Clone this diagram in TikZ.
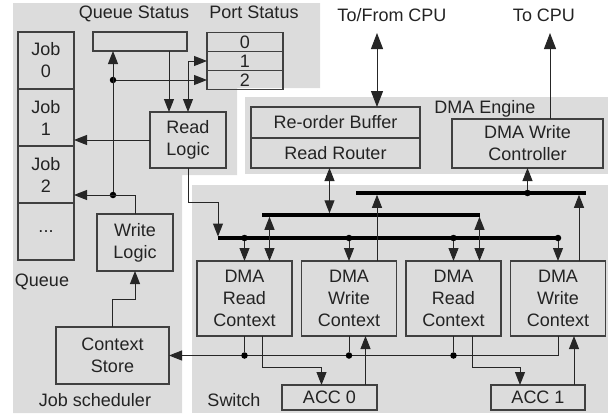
\documentclass[tikz,border=0pt]{standalone}
\usepackage{fontspec}
\setmainfont{Liberation Sans}
\usepackage{xcolor}
\usetikzlibrary{arrows.meta, positioning}
\definecolor{regiongray}{RGB}{220,220,220}
\definecolor{linegray}{RGB}{64,64,64}
\definecolor{textgray}{RGB}{35,35,35}

\begin{document}
\begin{tikzpicture}[x=1pt, y=-1pt, font=\fontsize{18}{22}\selectfont, text=textgray,
  blk/.style={draw=linegray, line width=1.2pt, align=center, inner sep=0pt, outer sep=0pt},
  lbl/.style={anchor=base, inner sep=0pt},
  wire/.style={draw=black!85, line width=1pt},
  arr/.style={wire, -{Triangle[length=13pt,width=10pt]}},
  arrb/.style={wire, {Triangle[length=13pt,width=10pt]}-{Triangle[length=13pt,width=10pt]}},
  bigtip/.style={{Triangle[length=16pt,width=12pt]}-{Triangle[length=16pt,width=12pt]}},
  bus/.style={line width=3.5pt},
  dot/.style={circle, fill=black, inner sep=0pt, minimum size=6.5pt}]
\useasboundingbox (0,0) rectangle (608,415);
\fill[regiongray] (13,3) -- (320,3) -- (320,88) -- (237,88) -- (237,175) -- (182,175) -- (182,413) -- (13,413) -- cycle;
\fill[regiongray] (245,97) rectangle (608,174);
\fill[regiongray] (192,185) rectangle (608,413);

\node[lbl] (lqs) at (134,19) {Queue Status};
\node[lbl] (lps) at (254,19) {Port Status};
\node[lbl] (lcpua) at (392,21) {To/From CPU};
\node[lbl] (lcpub) at (544,21) {To CPU};
\node[lbl] (ldma) at (485,113) {DMA Engine};
\node[lbl] (lq) at (42,286) {Queue};
\node[lbl] (ljs) at (95,406) {Job scheduler};
\node[lbl] (lsw) at (234,406) {Switch};

\node[blk, minimum width=56pt, minimum height=57pt] (job0) at (46,60.5) {Job\\0};
\node[blk, minimum width=56pt, minimum height=57pt, below=0pt of job0] (job1) {Job\\1};
\node[blk, minimum width=56pt, minimum height=57pt, below=0pt of job1] (job2) {Job\\2};
\node[blk, minimum width=56pt, minimum height=57pt, below=0pt of job2] (jobd) {...};

\node[blk, minimum width=94pt, minimum height=19pt] (qs) at (140,41.5) {};
\node[blk, minimum width=76pt, minimum height=19pt] (p0) at (245,42) {0};
\node[blk, minimum width=76pt, minimum height=19pt, below=0pt of p0] (p1) {1};
\node[blk, minimum width=76pt, minimum height=19pt, below=0pt of p1] (p2) {2};

\node[blk, minimum width=76pt, minimum height=56pt] (rl) at (188,140) {Read\\Logic};
\node[blk, minimum width=76pt, minimum height=57pt] (wl) at (135,242.5) {Write\\Logic};
\node[blk, minimum width=113pt, minimum height=57pt] (cs) at (112.5,355.5) {Context\\Store};

\node[blk, minimum width=169pt, minimum height=31pt] (rob) at (335.5,122.5) {Re-order Buffer};
\node[blk, minimum width=169pt, minimum height=30pt, below=0pt of rob] (rr) {Read Router};
\node[blk, minimum width=151pt, minimum height=49pt] (dwc) at (527.5,143.5) {DMA Write\\Controller};

\node[blk, minimum width=95pt, minimum height=75pt] (c1) at (244.5,298.5) {DMA\\Read\\Context};
\node[blk, minimum width=95pt, minimum height=75pt, right=9.5pt of c1] (c2) {DMA\\Write\\Context};
\node[blk, minimum width=95pt, minimum height=75pt, right=9.5pt of c2] (c3) {DMA\\Read\\Context};
\node[blk, minimum width=95pt, minimum height=75pt, right=9.5pt of c3] (c4) {DMA\\Write\\Context};

\node[blk, minimum width=95pt, minimum height=25pt] (acc0) at (329.5,397.5) {ACC 0};
\node[blk, minimum width=94pt, minimum height=25pt] (acc1) at (538,397.5) {ACC 1};

\coordinate (b1w) at (218,238);
\coordinate (b1e) at (558,238);
\coordinate (b2w) at (262,215);
\coordinate (b2e) at (480,215);
\coordinate (b3w) at (356,193);
\coordinate (b3e) at (586,193);
\coordinate (cpua) at (377,33);
\coordinate (cpub) at (550,33);
\draw[bus] (b1w) -- (b1e);
\draw[bus] (b2w) -- (b2e);
\draw[bus] (b3w) -- (b3e);

\draw[arr] ([xshift=-19pt]rl.north |- qs.south) -- ([xshift=-19pt]rl.north);
\draw[arrb] (p1.west) -| (rl.north);
\node[dot] (d1) at (113,195) {};
\node[dot] (d2) at (d1 |- p2.west) {};
\coordinate (jw) at (wl.north |- d1);
\draw[arr] (wl.north) -- (jw) -- (jw -| job2.east);
\draw[arr] (d1) -- (d1 |- qs.south);
\draw[arr] (d2) -- (p2.west);
\draw[arr] (rl.west) -- (rl.west -| job1.east);
\draw[arr] (cs.north) -- ++(0,-28) -| (wl.south);
\draw[arr, shorten >=1.5pt] (rl.south) -- ++(0,34) -| (b1w);

\node[dot] (tc1) at (c1.north |- b1w) {};
\node[dot] (tc2) at (c2.north |- b1w) {};
\node[dot] (tc3) at (c3.north |- b1w) {};
\node[dot] (tc4) at (c4.north |- b1w) {};
\draw[arr] (tc1) -- (c1.north);
\draw[arr] (tc2) -- (c2.north);
\draw[arr] (tc3) -- (c3.north);
\draw[arr] (tc4) -- (c4.north);

\draw[arrb, shorten <=1.75pt] ([xshift=25pt]c1.north |- b2w) -- ([xshift=25pt]c1.north);
\draw[arrb, shorten <=1.75pt] ([xshift=26pt]c3.north |- b2w) -- ([xshift=26pt]c3.north);
\draw[arrb, shorten <=1.75pt] ([xshift=-6pt]rr.south |- b2w) -- ([xshift=-6pt]rr.south);
\draw[arr, shorten >=1.75pt] ([xshift=28pt]c2.north) -- ([xshift=28pt]c2.north |- b3w);
\draw[arr, shorten >=1.75pt] ([xshift=21pt]c4.north) -- ([xshift=21pt]c4.north |- b3w);
\node[dot] (t3) at (dwc.south |- b3w) {};
\draw[arr] (t3) -- (dwc.south);

\draw[arrb, bigtip] (cpua |- rob.north) -- (cpua);
\draw[wire, -{Triangle[length=16pt,width=12pt]}] (cpub |- dwc.north) -- (cpub);

\draw[arr] (c4.south) |- (cs.east);
\node[dot] (bc1) at (c1.south |- cs.east) {};
\node[dot] (bc2) at (c2.south |- cs.east) {};
\node[dot] (bc3) at (c3.south |- cs.east) {};
\draw[wire] (c1.south) -- (bc1);
\draw[wire] (c2.south) -- (bc2);
\draw[wire] (c3.south) -- (bc3);
\draw[arr] ([xshift=18pt]c1.south) -- ++(0,31) -| ([xshift=-8pt]acc0.north);
\draw[arr] ([xshift=19pt]c3.south) -- ++(0,31) -| ([xshift=-18pt]acc1.north);
\draw[arr] ([xshift=36pt]acc0.north) -- ([xshift=36pt]acc0.north |- c2.south);
\draw[arr] ([xshift=36pt]acc1.north) -- ([xshift=36pt]acc1.north |- c4.south);
\end{tikzpicture}
\end{document}
